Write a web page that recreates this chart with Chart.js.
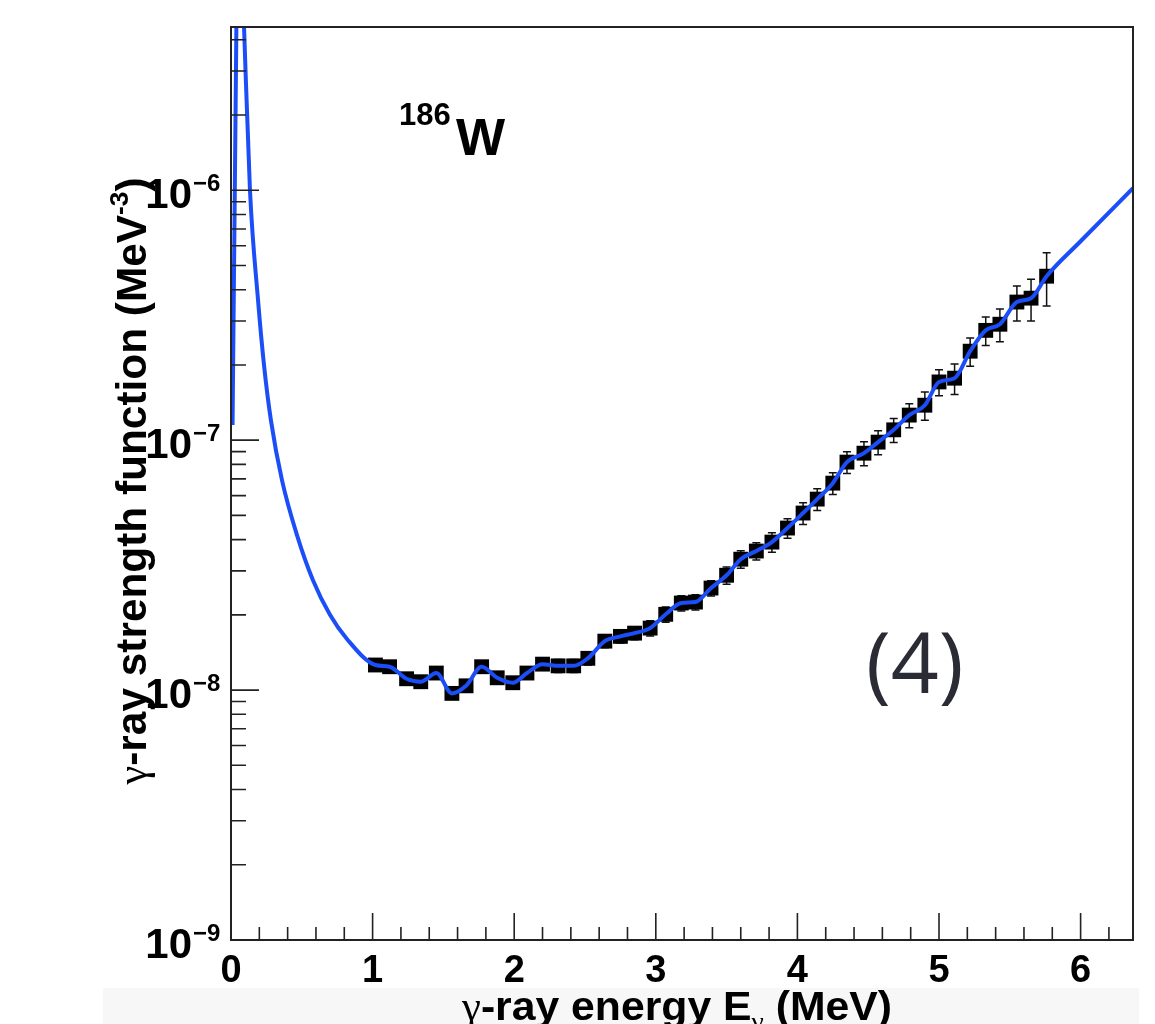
<!DOCTYPE html>
<html>
<head>
<meta charset="utf-8">
<script src="https://cdn.jsdelivr.net/npm/chart.js@4.4.0/dist/chart.umd.min.js"></script>
<style>
html, body { margin: 0; padding: 0; background: #fff; }
#wrap { width: 1155px; height: 1024px; }
</style>
</head>
<body>
<div id="wrap"><canvas id="c" width="1155" height="1024"></canvas></div>
<script>
// measured data points (MeV, MeV^-3) and relative errors in percent
var energy = [1.02, 1.12, 1.24, 1.34, 1.45, 1.56, 1.66, 1.77, 1.88, 1.99,
              2.09, 2.20, 2.31, 2.42, 2.52, 2.64, 2.75, 2.85, 2.96, 3.07,
              3.18, 3.28, 3.39, 3.50, 3.60, 3.71, 3.82, 3.93, 4.04, 4.14,
              4.25, 4.35, 4.47, 4.57, 4.68, 4.79, 4.90, 5.00, 5.11, 5.22,
              5.33, 5.43, 5.55, 5.65, 5.76];
var strength = [1.26e-8, 1.24e-8, 1.11e-8, 1.08e-8, 1.17e-8, 9.7e-9, 1.04e-8, 1.24e-8, 1.12e-8, 1.07e-8,
                1.17e-8, 1.27e-8, 1.25e-8, 1.25e-8, 1.34e-8, 1.57e-8, 1.64e-8, 1.69e-8, 1.77e-8, 2.01e-8,
                2.23e-8, 2.25e-8, 2.56e-8, 2.88e-8, 3.34e-8, 3.60e-8, 3.91e-8, 4.45e-8, 5.11e-8, 5.81e-8,
                6.73e-8, 8.17e-8, 8.87e-8, 9.82e-8, 1.10e-7, 1.26e-7, 1.38e-7, 1.71e-7, 1.77e-7, 2.27e-7,
                2.75e-7, 2.91e-7, 3.57e-7, 3.70e-7, 4.53e-7];
var errPct = [5, 5, 5, 5, 5, 5, 5, 5, 5, 5,
              5, 5, 6, 6, 6, 6, 6, 6, 7, 7,
              7, 7, 7, 8, 8, 8, 9, 9, 10, 10,
              10, 10, 11, 11, 11, 11, 13, 12, 14, 13,
              13, 15, 16, 19, 24];

// blue curve below and above the data range
var curveLowE = [0.011, 0.038, 0.05, 0.092, 0.134, 0.191, 0.233, 0.282, 0.360, 0.466, 0.579, 0.699, 0.819];
var curveLowS = [1.15e-7, 4.5e-6, 2.0e-5, 4.5e-6, 1.0e-6, 3.63e-7, 2.0e-7, 1.2e-7, 6.92e-8, 4.17e-8, 2.75e-8, 2.0e-8, 1.6e-8];
var curveHighE = [6.0, 6.37];
var curveHighS = [6.25e-7, 1.02e-6];

var xTicks = [0, 1, 2, 3, 4, 5, 6];
var yDecades = [-9, -8, -7, -6];

var xMin = 0, xMax = 6.37, yMin = 1e-9, yMax = 4.5e-6;

var SANS = '"Liberation Sans", Arial, Helvetica, sans-serif';
var SERIF = '"Liberation Serif", "DejaVu Serif", serif';

function pts(xs, ys) {
  var out = [];
  for (var i = 0; i < xs.length; i++) out.push({ x: xs[i], y: ys[i] });
  return out;
}
var dataPts = pts(energy, strength);
var curvePts = pts(curveLowE, curveLowS).concat(dataPts, pts(curveHighE, curveHighS));

// draw a list of text runs, squeezed/stretched to a target width
function drawRuns(ctx, runs, cx, base, targetW) {
  var total = 0;
  runs.forEach(function (r) { ctx.font = r.font; r.w = ctx.measureText(r.t).width; total += r.w; });
  var s = targetW ? targetW / total : 1;
  ctx.save();
  ctx.translate(cx - total * s / 2, base);
  ctx.scale(s, 1);
  var x = 0;
  runs.forEach(function (r) {
    ctx.font = r.font;
    ctx.textAlign = 'left';
    ctx.textBaseline = 'alphabetic';
    ctx.fillText(r.t, x, r.dy || 0);
    x += r.w;
  });
  ctx.restore();
}

var deco = {
  id: 'deco',
  beforeDraw: function (chart) {
    var ctx = chart.ctx;
    ctx.save();
    ctx.fillStyle = '#fff';
    ctx.fillRect(0, 0, chart.width, chart.height);
    ctx.fillStyle = '#f7f7f7';
    ctx.fillRect(103, 988, 1036, 36);
    ctx.restore();
  },
  beforeDatasetsDraw: function (chart) {
    var ctx = chart.ctx, ys = chart.scales.y;
    var meta = chart.getDatasetMeta(1);
    ctx.save();
    ctx.strokeStyle = '#111';
    ctx.lineWidth = 1.5;
    meta.data.forEach(function (p, i) {
      var v = strength[i], e = errPct[i] / 100;
      var yt = ys.getPixelForValue(v * (1 + e));
      var yb = ys.getPixelForValue(v * (1 - e));
      ctx.beginPath();
      ctx.moveTo(p.x, yt); ctx.lineTo(p.x, yb);
      ctx.moveTo(p.x - 4, yt); ctx.lineTo(p.x + 4, yt);
      ctx.moveTo(p.x - 4, yb); ctx.lineTo(p.x + 4, yb);
      ctx.stroke();
    });
    ctx.restore();
  },
  afterDraw: function (chart) {
    var ctx = chart.ctx, a = chart.chartArea;
    var xs = chart.scales.x, ys = chart.scales.y;
    ctx.save();
    ctx.strokeStyle = '#222';
    ctx.lineWidth = 2;
    ctx.strokeRect(a.left, a.top, a.right - a.left, a.bottom - a.top);

    // y ticks
    ctx.lineWidth = 1.6;
    ctx.beginPath();
    yDecades.forEach(function (d) {
      for (var m = 1; m <= 9; m++) {
        var v = m * Math.pow(10, d);
        if (v < yMin || v > yMax) continue;
        var y = ys.getPixelForValue(v);
        ctx.moveTo(a.left, y);
        ctx.lineTo(a.left + (m === 1 ? 28 : 15), y);
      }
    });
    // x ticks
    for (var k = 1; k * 0.2 <= xMax; k++) {
      var xv = k * 0.2;
      var x = xs.getPixelForValue(xv);
      ctx.moveTo(x, a.bottom);
      ctx.lineTo(x, a.bottom - (k % 5 === 0 ? 27 : 13));
    }
    ctx.stroke();

    // tick labels
    ctx.fillStyle = '#000';
    yDecades.forEach(function (d) {
      var y = ys.getPixelForValue(Math.pow(10, d));
      ctx.font = 'bold 42px ' + SANS;
      ctx.textAlign = 'right';
      ctx.textBaseline = 'alphabetic';
      ctx.fillText('10', 192, y + 18);
      ctx.font = 'bold 24px ' + SANS;
      ctx.textAlign = 'left';
      ctx.fillText('\u2212' + (-d), 193, y + 1);
    });
    ctx.font = 'bold 38px ' + SANS;
    ctx.textAlign = 'center';
    xTicks.forEach(function (t) {
      ctx.fillText(String(t), xs.getPixelForValue(t), 982);
    });

    // axis titles
    drawRuns(ctx, [
      { t: '\u03b3', font: '40px ' + SERIF },
      { t: '-ray energy E', font: 'bold 40px ' + SANS },
      { t: '\u03b3', font: '26px ' + SERIF, dy: 10 },
      { t: ' (MeV)', font: 'bold 40px ' + SANS }
    ], 677, 1020, 430);

    ctx.save();
    ctx.translate(146, 481);
    ctx.rotate(-Math.PI / 2);
    drawRuns(ctx, [
      { t: '\u03b3', font: '42px ' + SERIF },
      { t: '-ray strength function (MeV', font: 'bold 42px ' + SANS },
      { t: '-3', font: 'bold 26px ' + SANS, dy: -18 },
      { t: ')', font: 'bold 42px ' + SANS }
    ], 0, 0, 607);
    ctx.restore();

    // nucleus label
    ctx.textAlign = 'left';
    ctx.font = 'bold 31px ' + SANS;
    ctx.fillText('186', 399, 125);
    ctx.font = 'bold 52px ' + SANS;
    ctx.fillText('W', 456, 155);

    // panel label
    ctx.fillStyle = '#2b2b36';
    ctx.font = '84px "Open Sans", "Noto Sans", sans-serif';
    ctx.fillText('(4)', 866, 693);
    ctx.restore();
  }
};

var ctx = document.getElementById('c').getContext('2d');
var chart = new Chart(ctx, {
  type: 'scatter',
  data: {
    datasets: [{
      type: 'line',
      data: curvePts,
      borderColor: '#1b4ef7',
      borderWidth: 4,
      pointRadius: 0,
      fill: false,
      cubicInterpolationMode: 'monotone',
      clip: 0
    }, {
      data: dataPts,
      pointStyle: 'rect',
      pointRadius: 10.5,
      backgroundColor: '#000',
      borderWidth: 0
    }]
  },
  options: {
    responsive: false,
    animation: false,
    events: [],
    layout: { padding: { left: 231, top: 27, right: 22, bottom: 84 } },
    plugins: { legend: { display: false }, tooltip: { enabled: false } },
    scales: {
      x: { type: 'linear', min: xMin, max: xMax, display: false },
      y: { type: 'logarithmic', min: yMin, max: yMax, display: false }
    }
  },
  plugins: [deco]
});
</script>
</body>
</html>
